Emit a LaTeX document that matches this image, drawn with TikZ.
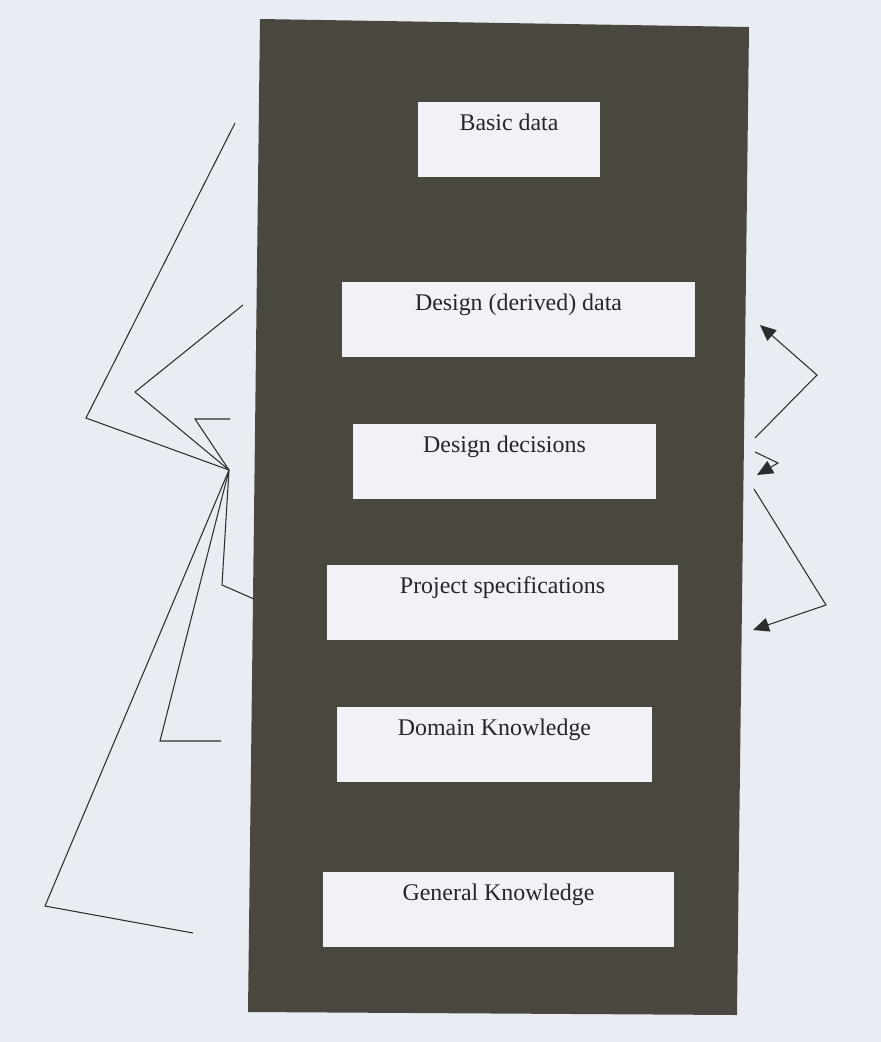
\documentclass[tikz,border=0pt]{standalone}
\usepackage{fontspec}
\setmainfont{Liberation Serif}
\usepackage{xcolor}
\usetikzlibrary{arrows.meta}
\definecolor{pagebg}{RGB}{232,237,244}
\definecolor{panelgray}{RGB}{74,72,62}
\definecolor{cardbg}{RGB}{240,242,247}
\definecolor{inkgray}{RGB}{45,45,45}

\begin{document}
\begin{tikzpicture}[x=0.02cm, y=-0.02cm,
        card/.style={fill=cardbg, inner xsep=0pt, inner ysep=0pt, text height=0.56cm, text depth=0.94cm, font=\fontsize{13.6}{16}\selectfont, text=black!85},
        wire/.style={inkgray, line width=0.6pt},
        pointer/.style={wire, -{Triangle[length=3.2mm, width=2.8mm]}}]
                \fill[pagebg] (0,0) rectangle (881,1042);
                \useasboundingbox (0,0) rectangle (881,1042);
                \fill[panelgray] (260,19) -- (749,27) -- (737,1015) -- (248,1012) -- cycle;
                \node[card, minimum width=3.64cm] (basic) at (509,139.5) {Basic data};
                \node[card, minimum width=7.06cm] (derived) at (518.5,319.5) {Design (derived) data};
                \node[card, minimum width=6.06cm] (decisions) at (504.5,461.5) {Design decisions};
                \node[card, minimum width=7.02cm] (specs) at (502.5,602.5) {Project specifications};
                \node[card, minimum width=6.30cm] (domain) at (494.5,744.5) {Domain Knowledge};
                \node[card, minimum width=7.02cm] (general) at (498.5,909.5) {General Knowledge};
                \coordinate (hub) at (229,470);
                \coordinate (tipA) at (235,123);
                \coordinate (kneeA) at (86,418);
                \coordinate (tipB) at (243,305);
                \coordinate (kneeB) at (135,392);
                \coordinate (tipC) at (230,419);
                \coordinate (kneeC) at (195,419);
                \coordinate (tipD) at (254,599);
                \coordinate (kneeD) at (222,585);
                \coordinate (tipE) at (221,741);
                \coordinate (kneeE) at (160,741);
                \coordinate (tipF) at (193,933);
                \coordinate (kneeF) at (45,906);
                \draw[wire] (tipA) -- (kneeA) -- (hub);
                \draw[wire] (tipB) -- (kneeB) -- (hub);
                \draw[wire] (tipC) -- (kneeC) -- (hub);
                \draw[wire] (hub) -- (kneeD) -- (tipD);
                \draw[wire] (hub) -- (kneeE) -- (tipE);
                \draw[wire] (hub) -- (kneeF) -- (tipF);
                \coordinate (outA) at (755,438);
                \coordinate (bendA) at (817,375);
                \coordinate (headA) at (760,325);
                \coordinate (outB) at (755,452);
                \coordinate (bendB) at (778,463);
                \coordinate (headB) at (757,475);
                \coordinate (outC) at (754,489);
                \coordinate (bendC) at (826,605);
                \coordinate (headC) at (753,630);
                \draw[pointer] (outA) -- (bendA) -- (headA);
                \draw[pointer] (outB) -- (bendB) -- (headB);
                \draw[pointer] (outC) -- (bendC) -- (headC);
            \end{tikzpicture}
\end{document}
